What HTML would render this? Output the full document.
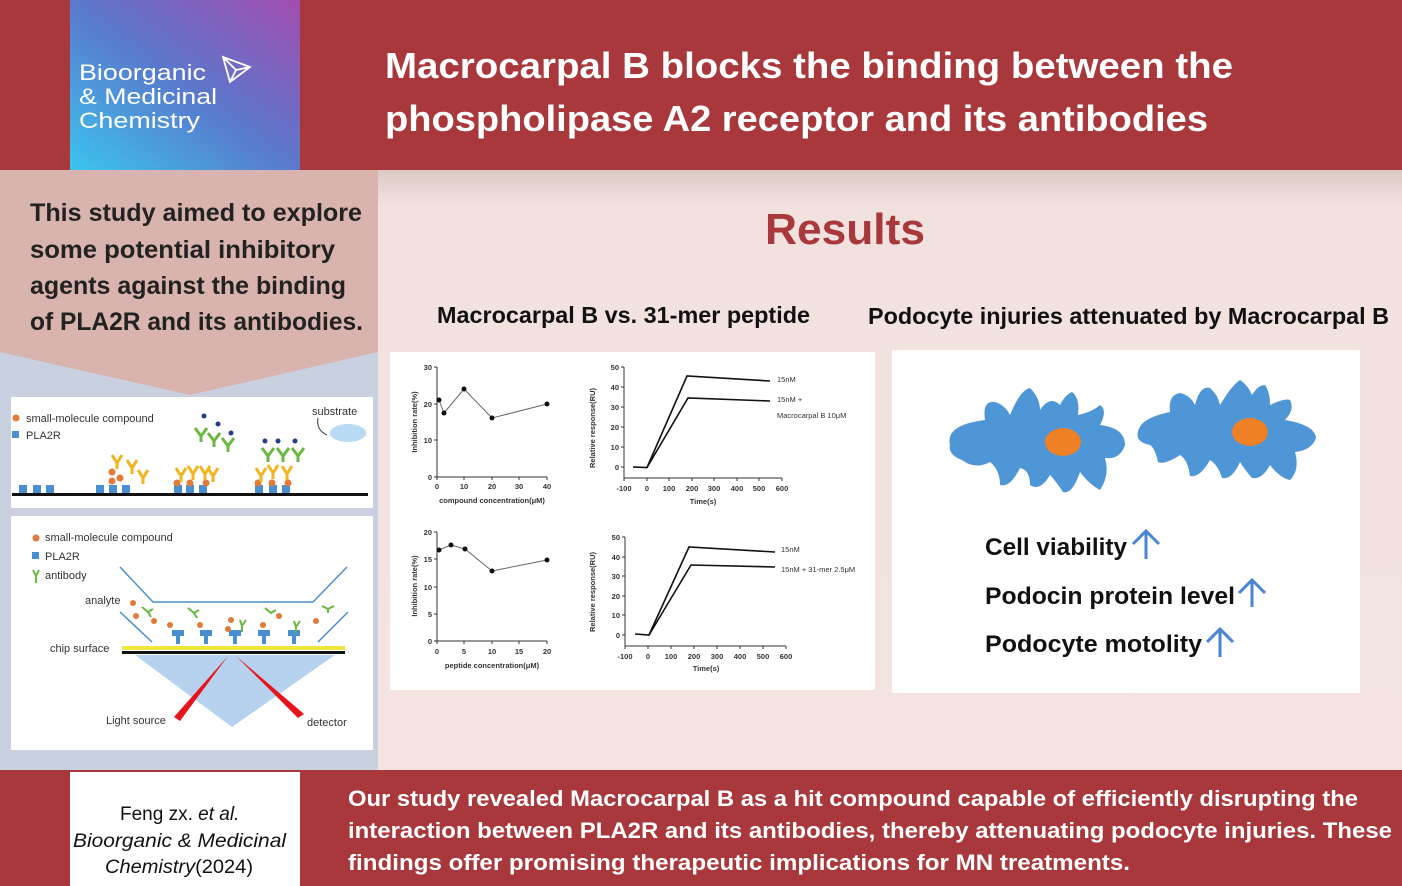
<!DOCTYPE html>
<html><head><meta charset="utf-8"><style>
html,body{margin:0;padding:0;background:#fff}
svg{display:block}
text{font-family:"Liberation Sans",sans-serif}
</style></head><body>
<svg width="1402" height="886" viewBox="0 0 1402 886" xmlns="http://www.w3.org/2000/svg">
<defs>
<linearGradient id="logo" x1="0" y1="1" x2="1" y2="0">
<stop offset="0" stop-color="#3cc4ee"/><stop offset="0.5" stop-color="#5a78cc"/><stop offset="1" stop-color="#a24db0"/>
</linearGradient>
<linearGradient id="rbg" x1="0" y1="0" x2="0" y2="1">
<stop offset="0" stop-color="#dcc9c6"/><stop offset="0.06" stop-color="#f1e2df"/><stop offset="1" stop-color="#f3e4e1"/>
</linearGradient>
</defs>
<!-- top band -->
<rect x="0" y="0" width="1402" height="170" fill="#a8383b"/>
<rect x="70" y="0" width="230" height="170" fill="url(#logo)"/>
<text x="79" y="80" font-size="22" fill="#fff" textLength="127" lengthAdjust="spacingAndGlyphs">Bioorganic</text>
<text x="79" y="104" font-size="22" fill="#fff" textLength="138" lengthAdjust="spacingAndGlyphs">&amp; Medicinal</text>
<text x="79" y="128" font-size="22" fill="#fff" textLength="121" lengthAdjust="spacingAndGlyphs">Chemistry</text>
<path d="M223 57 L250 67 L230 82 Z M223 57 L236 70 L250 67 M236 70 L230 82" fill="none" stroke="#fff" stroke-width="1.8"/>
<text x="385" y="78" font-size="36" font-weight="bold" fill="#fff" textLength="848" lengthAdjust="spacingAndGlyphs">Macrocarpal B blocks the binding between the</text>
<text x="385" y="131" font-size="36" font-weight="bold" fill="#fff" textLength="823" lengthAdjust="spacingAndGlyphs">phospholipase A2 receptor and its antibodies</text>

<!-- left column -->
<rect x="0" y="170" width="378" height="600" fill="#c9d0e0"/>
<path d="M0 170 H378 V352 L190 395 L0 352 Z" fill="#d9b3ad"/>
<text font-size="25" font-weight="bold" fill="#222">
<tspan x="30" y="221" textLength="332" lengthAdjust="spacingAndGlyphs">This study aimed to explore</tspan>
</text>
<text x="30" y="258" font-size="25" font-weight="bold" fill="#222" textLength="305" lengthAdjust="spacingAndGlyphs">some potential inhibitory</text>
<text x="30" y="294" font-size="25" font-weight="bold" fill="#222" textLength="316" lengthAdjust="spacingAndGlyphs">agents against the binding</text>
<text x="30" y="330" font-size="25" font-weight="bold" fill="#222" textLength="333" lengthAdjust="spacingAndGlyphs">of PLA2R and its antibodies.</text>

<!-- panel 1 -->
<rect x="11" y="397" width="362" height="111" fill="#fff"/>
<circle cx="16" cy="418" r="3.5" fill="#e07b39"/>
<text x="26" y="422" font-size="11" fill="#333">small-molecule compound</text>
<rect x="12" y="431" width="7" height="7" fill="#4a8fd0"/>
<text x="26" y="439" font-size="11" fill="#333">PLA2R</text>
<text x="312" y="415" font-size="11" fill="#333">substrate</text>
<path d="M318 418 Q316 430 327 435" fill="none" stroke="#333"/>
<ellipse cx="348" cy="433" rx="18" ry="9" fill="#b8daf2"/>
<rect x="12" y="493" width="356" height="3" fill="#111"/>
<g fill="#4a8fd0">
<rect x="19" y="485" width="8" height="8"/><rect x="33" y="485" width="8" height="8"/><rect x="46" y="485" width="8" height="8"/>
<rect x="96" y="485" width="8" height="8"/><rect x="109" y="485" width="8" height="8"/><rect x="122" y="485" width="8" height="8"/>
<rect x="174" y="485" width="8" height="8"/><rect x="186" y="485" width="8" height="8"/><rect x="199" y="485" width="8" height="8"/>
<rect x="255" y="485" width="8" height="8"/><rect x="269" y="485" width="8" height="8"/><rect x="282" y="485" width="8" height="8"/>
</g>
<g fill="#e07b39">
<circle cx="112" cy="472" r="3.5"/><circle cx="120" cy="478" r="3.5"/><circle cx="112" cy="481" r="3.5"/>
<circle cx="177" cy="483" r="3.5"/><circle cx="190" cy="483" r="3.5"/><circle cx="206" cy="483" r="3.5"/>
<circle cx="258" cy="483" r="3.5"/><circle cx="272" cy="483" r="3.5"/><circle cx="288" cy="483" r="3.5"/>
</g>
<g stroke="#f2b51f" stroke-width="3" fill="none">
<path d="M112 455 l5 8 l5 -8 M117 463 v6"/><path d="M127 460 l5 8 l5 -8 M132 468 v6"/><path d="M138 470 l5 8 l5 -8 M143 478 v6"/>
<path d="M176 468 l5 8 l5 -8 M181 476 v6"/><path d="M188 466 l5 8 l5 -8 M193 474 v6"/><path d="M200 466 l5 8 l5 -8 M205 474 v6"/><path d="M208 468 l5 8 l5 -8 M213 476 v6"/>
<path d="M256 468 l5 8 l5 -8 M261 476 v6"/><path d="M268 465 l5 8 l5 -8 M273 473 v6"/><path d="M282 466 l5 8 l5 -8 M287 474 v6"/>
</g>
<g stroke="#6ab842" stroke-width="3" fill="none">
<path d="M195 428 l6 8 l6 -8 M201 436 v6"/><path d="M208 433 l6 8 l6 -8 M214 441 v6"/><path d="M222 438 l6 8 l6 -8 M228 446 v6"/>
<path d="M262 448 l6 8 l6 -8 M268 456 v6"/><path d="M277 448 l6 8 l6 -8 M283 456 v6"/><path d="M292 448 l6 8 l6 -8 M298 456 v6"/>
</g>
<g fill="#223d8a"><circle cx="204" cy="416" r="2.5"/><circle cx="218" cy="424" r="2.5"/><circle cx="231" cy="433" r="2.5"/><circle cx="265" cy="441" r="2.5"/><circle cx="278" cy="441" r="2.5"/><circle cx="295" cy="441" r="2.5"/></g>

<!-- panel 2 -->
<rect x="11" y="516" width="362" height="234" fill="#fff"/>
<circle cx="36" cy="538" r="3.5" fill="#e07b39"/>
<text x="45" y="541" font-size="11" fill="#333">small-molecule compound</text>
<rect x="32" y="552" width="7" height="7" fill="#4a8fd0"/>
<text x="45" y="560" font-size="11" fill="#333">PLA2R</text>
<path d="M33 570 l3 6 l3 -6 M36 576 v7" stroke="#6ab842" stroke-width="2" fill="none"/>
<text x="45" y="579" font-size="11" fill="#333">antibody</text>
<text x="85" y="604" font-size="11" fill="#333">analyte</text>
<path d="M120 567 L153 602 H313 L347 567 M120 612 L152 642 M348 612 L318 642" stroke="#4a8fd0" stroke-width="1.5" fill="none"/>
<rect x="122" y="646" width="223" height="4" fill="#f0e640"/>
<rect x="122" y="651" width="223" height="3" fill="#111"/>
<path d="M135 655 H335 L232 727 Z" fill="#b6d2ee"/>
<path d="M228 656 L174 717 L180 721 Z M236 656 L298 718 L304 714 Z" fill="#e8141c"/>
<g fill="#4a8fd0"><path d="M172 630 h12 v6 h-4 v8 h-4 v-8 h-4z"/><path d="M200 630 h12 v6 h-4 v8 h-4 v-8 h-4z"/><path d="M229 630 h12 v6 h-4 v8 h-4 v-8 h-4z"/><path d="M258 630 h12 v6 h-4 v8 h-4 v-8 h-4z"/><path d="M288 630 h12 v6 h-4 v8 h-4 v-8 h-4z"/></g>
<g fill="#e07b39"><circle cx="133" cy="603" r="3"/><circle cx="136" cy="616" r="3"/><circle cx="154" cy="621" r="3"/><circle cx="170" cy="625" r="3"/><circle cx="200" cy="625" r="3"/><circle cx="231" cy="620" r="3"/><circle cx="228" cy="629" r="3"/><circle cx="263" cy="625" r="3"/><circle cx="279" cy="616" r="3"/><circle cx="316" cy="621" r="3"/></g>
<g stroke="#6ab842" stroke-width="2" fill="none"><path d="M142 607 l6 5 l5 -3 M148 612 l3 5"/><path d="M188 608 l6 5 l5 -3 M194 613 l3 5"/><path d="M240 620 l2 6 l4 -6 M242 626 v6"/><path d="M265 608 l6 5 l5 -3"/><path d="M294 621 l2 6 l4 -6 M296 627 v6"/><path d="M322 606 l6 3 l6 -3 M328 609 v4"/></g>
<text x="50" y="652" font-size="11" fill="#333">chip surface</text>
<text x="106" y="724" font-size="11" fill="#333">Light source</text>
<text x="307" y="726" font-size="11" fill="#333">detector</text>

<!-- right area -->
<rect x="378" y="170" width="1024" height="600" fill="url(#rbg)"/>
<text x="765" y="244" font-size="44" font-weight="bold" fill="#a8383b" textLength="160" lengthAdjust="spacingAndGlyphs">Results</text>
<text x="437" y="323" font-size="23" font-weight="bold" fill="#111" textLength="373" lengthAdjust="spacingAndGlyphs">Macrocarpal B vs. 31-mer peptide</text>
<text x="868" y="324" font-size="23" font-weight="bold" fill="#111" textLength="521" lengthAdjust="spacingAndGlyphs">Podocyte injuries attenuated by Macrocarpal B</text>

<rect x="390" y="352" width="485" height="338" fill="#fff"/>
<rect x="892" y="350" width="468" height="343" fill="#fff"/>

<!-- chart 1 -->
<g font-size="7.5" font-weight="bold" fill="#333" stroke="none">
<path d="M437 367 V477 H547" stroke="#333" fill="none" stroke-width="1"/>
<g stroke="#333"><path d="M434 367h3M434 404h3M434 440h3M434 477h3M437 477v3M464 477v3M492 477v3M519 477v3M547 477v3"/></g>
<text x="432" y="370" text-anchor="end">30</text><text x="432" y="407" text-anchor="end">20</text><text x="432" y="443" text-anchor="end">10</text><text x="432" y="480" text-anchor="end">0</text>
<text x="437" y="489" text-anchor="middle">0</text><text x="464" y="489" text-anchor="middle">10</text><text x="492" y="489" text-anchor="middle">20</text><text x="519" y="489" text-anchor="middle">30</text><text x="547" y="489" text-anchor="middle">40</text>
<text x="492" y="503" text-anchor="middle">compound concentration(μM)</text>
<text transform="translate(417 422) rotate(-90)" text-anchor="middle">Inhibition rate(%)</text>
<polyline points="439,400 444,413 464,389 492,418 547,404" fill="none" stroke="#666" stroke-width="1"/>
<g fill="#111"><circle cx="439" cy="400" r="2.5"/><circle cx="444" cy="413" r="2.5"/><circle cx="464" cy="389" r="2.5"/><circle cx="492" cy="418" r="2.5"/><circle cx="547" cy="404" r="2.5"/></g>
</g>
<!-- chart 2 -->
<g font-size="7.5" font-weight="bold" fill="#333">
<path d="M624 367 V478 H782" stroke="#333" fill="none"/>
<g stroke="#333"><path d="M621 367h3M621 387h3M621 407h3M621 427h3M621 447h3M621 467h3M624 478v3M647 478v3M669 478v3M692 478v3M714 478v3M737 478v3M759 478v3M782 478v3"/></g>
<text x="619" y="370" text-anchor="end">50</text><text x="619" y="390" text-anchor="end">40</text><text x="619" y="410" text-anchor="end">30</text><text x="619" y="430" text-anchor="end">20</text><text x="619" y="450" text-anchor="end">10</text><text x="619" y="470" text-anchor="end">0</text>
<text x="624" y="491" text-anchor="middle">-100</text><text x="647" y="491" text-anchor="middle">0</text><text x="669" y="491" text-anchor="middle">100</text><text x="692" y="491" text-anchor="middle">200</text><text x="714" y="491" text-anchor="middle">300</text><text x="737" y="491" text-anchor="middle">400</text><text x="759" y="491" text-anchor="middle">500</text><text x="782" y="491" text-anchor="middle">600</text>
<text x="703" y="504" text-anchor="middle">Time(s)</text>
<text transform="translate(595 428) rotate(-90)" text-anchor="middle">Relative response(RU)</text>
<polyline points="633,467 647,467.5 687,376 770,381" fill="none" stroke="#111" stroke-width="1.6"/>
<polyline points="647,467.5 688,398 770,401" fill="none" stroke="#111" stroke-width="1.6"/>
<text x="777" y="382" font-weight="normal">15nM</text>
<text x="777" y="402" font-weight="normal">15nM +</text>
<text x="777" y="418" font-weight="normal">Macrocarpal B 10μM</text>
</g>
<!-- chart 3 -->
<g font-size="7.5" font-weight="bold" fill="#333">
<path d="M437 532 V641 H547" stroke="#333" fill="none"/>
<g stroke="#333"><path d="M434 532h3M434 559h3M434 587h3M434 614h3M434 641h3M437 641v3M464 641v3M492 641v3M519 641v3M547 641v3"/></g>
<text x="432" y="535" text-anchor="end">20</text><text x="432" y="562" text-anchor="end">15</text><text x="432" y="590" text-anchor="end">10</text><text x="432" y="617" text-anchor="end">5</text><text x="432" y="644" text-anchor="end">0</text>
<text x="437" y="654" text-anchor="middle">0</text><text x="464" y="654" text-anchor="middle">5</text><text x="492" y="654" text-anchor="middle">10</text><text x="519" y="654" text-anchor="middle">15</text><text x="547" y="654" text-anchor="middle">20</text>
<text x="492" y="668" text-anchor="middle">peptide concentration(μM)</text>
<text transform="translate(417 586) rotate(-90)" text-anchor="middle">Inhibition rate(%)</text>
<polyline points="439,550 451,545 465,549 492,571 547,560" fill="none" stroke="#666"/>
<g fill="#111"><circle cx="439" cy="550" r="2.5"/><circle cx="451" cy="545" r="2.5"/><circle cx="465" cy="549" r="2.5"/><circle cx="492" cy="571" r="2.5"/><circle cx="547" cy="560" r="2.5"/></g>
</g>
<!-- chart 4 -->
<g font-size="7.5" font-weight="bold" fill="#333">
<path d="M625 537 V646 H786" stroke="#333" fill="none"/>
<g stroke="#333"><path d="M622 537h3M622 557h3M622 576h3M622 596h3M622 615h3M622 635h3M625 646v3M648 646v3M671 646v3M694 646v3M717 646v3M740 646v3M763 646v3M786 646v3"/></g>
<text x="620" y="540" text-anchor="end">50</text><text x="620" y="560" text-anchor="end">40</text><text x="620" y="579" text-anchor="end">30</text><text x="620" y="599" text-anchor="end">20</text><text x="620" y="618" text-anchor="end">10</text><text x="620" y="638" text-anchor="end">0</text>
<text x="625" y="659" text-anchor="middle">-100</text><text x="648" y="659" text-anchor="middle">0</text><text x="671" y="659" text-anchor="middle">100</text><text x="694" y="659" text-anchor="middle">200</text><text x="717" y="659" text-anchor="middle">300</text><text x="740" y="659" text-anchor="middle">400</text><text x="763" y="659" text-anchor="middle">500</text><text x="786" y="659" text-anchor="middle">600</text>
<text x="706" y="671" text-anchor="middle">Time(s)</text>
<text transform="translate(595 592) rotate(-90)" text-anchor="middle">Relative response(RU)</text>
<polyline points="635,634 649,635 689,547 775,552" fill="none" stroke="#111" stroke-width="1.6"/>
<polyline points="649,635 691,565 775,567" fill="none" stroke="#111" stroke-width="1.6"/>
<text x="781" y="552" font-weight="normal">15nM</text>
<text x="781" y="572" font-weight="normal">15nM + 31-mer 2.5μM</text>
</g>

<!-- cells -->
<path d="M950 445 Q945 425 985 420 Q982 400 995 402 Q1005 405 1010 415 Q1020 390 1030 388 Q1040 398 1040 410 Q1050 395 1060 405 Q1065 395 1072 392 Q1080 398 1078 415 Q1092 412 1100 405 Q1108 410 1100 425 Q1125 428 1125 445 Q1120 460 1105 458 Q1110 475 1100 490 Q1090 485 1080 472 Q1072 495 1063 492 Q1055 480 1050 475 Q1040 492 1030 485 Q1030 470 1020 468 Q1010 488 1000 485 Q1000 470 990 462 Q975 470 962 460 Q948 455 950 445 Z" fill="#4f96d6"/>
<ellipse cx="1063" cy="442" rx="18" ry="14" fill="#f08127"/>
<path d="M1138 432 Q1140 418 1170 412 Q1168 395 1180 393 Q1190 395 1195 405 Q1200 385 1210 388 Q1218 395 1220 405 Q1232 385 1240 380 Q1248 385 1252 395 Q1258 385 1265 385 Q1270 392 1270 405 Q1285 398 1290 400 Q1295 410 1285 420 Q1315 425 1316 438 Q1312 450 1295 452 Q1300 470 1290 480 Q1280 478 1270 465 Q1262 480 1252 478 Q1245 470 1240 462 Q1232 480 1222 478 Q1218 465 1210 460 Q1200 478 1190 476 Q1188 460 1180 455 Q1165 465 1158 462 Q1155 448 1150 445 Q1135 442 1138 432 Z" fill="#4f96d6"/>
<ellipse cx="1250" cy="432" rx="18" ry="14" fill="#f08127"/>

<text x="985" y="555" font-size="24" font-weight="bold" fill="#111" textLength="142" lengthAdjust="spacingAndGlyphs">Cell viability</text>
<text x="985" y="604" font-size="24" font-weight="bold" fill="#111" textLength="250" lengthAdjust="spacingAndGlyphs">Podocin protein level</text>
<text x="985" y="652" font-size="24" font-weight="bold" fill="#111" textLength="217" lengthAdjust="spacingAndGlyphs">Podocyte motolity</text>
<g stroke="#4a85d0" stroke-width="3" fill="none">
<path d="M1146 559 V531 M1133 544 L1146 531 L1159 544"/>
<path d="M1252 607 V580 M1239 593 L1252 580 L1265 593"/>
<path d="M1220 657 V629 M1207 642 L1220 629 L1233 642"/>
</g>

<!-- bottom band -->
<rect x="0" y="770" width="1402" height="116" fill="#a8383b"/>
<rect x="70" y="772" width="230" height="114" fill="#fff"/>
<text x="120" y="820" font-size="19" fill="#111">Feng zx. <tspan font-style="italic">et al.</tspan></text>
<text x="73" y="847" font-size="19" font-style="italic" fill="#111" textLength="213" lengthAdjust="spacingAndGlyphs">Bioorganic &amp; Medicinal</text>
<text x="105" y="873" font-size="19" fill="#111" textLength="148" lengthAdjust="spacingAndGlyphs"><tspan font-style="italic">Chemistry</tspan>(2024)</text>
<text x="348" y="806" font-size="22" font-weight="bold" fill="#fff" textLength="1010" lengthAdjust="spacingAndGlyphs">Our study revealed Macrocarpal B as a hit compound capable of efficiently disrupting the</text>
<text x="348" y="838" font-size="22" font-weight="bold" fill="#fff" textLength="1044" lengthAdjust="spacingAndGlyphs">interaction between PLA2R and its antibodies, thereby attenuating podocyte injuries. These</text>
<text x="348" y="870" font-size="22" font-weight="bold" fill="#fff" textLength="782" lengthAdjust="spacingAndGlyphs">findings offer promising therapeutic implications for MN treatments.</text>
</svg>
</body></html>
